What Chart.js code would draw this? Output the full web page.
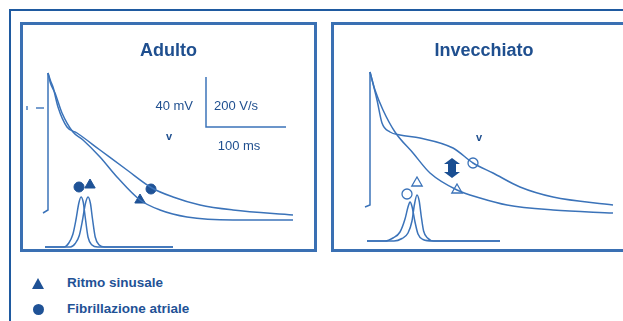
<!DOCTYPE html>
<html>
<head>
<meta charset="utf-8">
<script src="https://cdn.jsdelivr.net/npm/chart.js@4"></script>
<style>
  body { margin: 0; background: #fff; font-family: "Liberation Sans", Arial, sans-serif; }
  #page { position: relative; width: 623px; height: 321px; overflow: hidden; }
  #outer { position: absolute; left: 9px; top: 9px; width: 700px; height: 400px;
           border-top: 2px solid #1f5aa0; border-left: 2px solid #1f5aa0; }
  .panel { position: absolute; top: 22px; height: 224px; border: 3px solid #3a70b3; }
  #pAd { left: 20px; width: 291px; }
  #pInv { left: 331px; width: 300px; }
  .panel canvas { position: absolute; left: 0; top: 0; }
  .leg { position: absolute; left: 67px; font-weight: bold; font-size: 13.5px; line-height: 16px; color: #1f5296; }
  .tri { position: absolute; left: 32px; top: 278px; width: 0; height: 0;
         border-left: 6px solid transparent; border-right: 6px solid transparent; border-bottom: 11px solid #1f5296; }
  .dot { position: absolute; left: 33px; top: 304px; width: 11px; height: 11px; border-radius: 50%; background: #1f5296; }
</style>
</head>
<body>
<div id="page">
  <div id="outer"></div>
  <div class="panel" id="pAd"><canvas id="cAd" width="291" height="224"></canvas></div>
  <div class="panel" id="pInv"><canvas id="cInv" width="300" height="224"></canvas></div>
  <div class="tri"></div><div class="leg" style="top:275px">Ritmo sinusale</div>
  <div class="dot"></div><div class="leg" style="top:301px">Fibrillazione atriale</div>
</div>
<script>
// tempo in ms, potenziale in mV, derivata in V/s

// Adulto
var adUpT = [-6.25, 0, 0];
var adUpV = [-84, -81.6, 28];
var adSinT = [0, 3, 8.75, 17.5, 31.25, 43.75, 65, 86.25, 115, 140, 173.75, 231.25, 306.25];
var adSinV = [28, 20, 12, -4, -19.2, -25.6, -39.2, -55.2, -73.6, -81.6, -87.2, -89.6, -89.6];
var adFibT = [0, 3, 6.25, 12.5, 23.75, 36.25, 65, 98.75, 130, 156.25, 190, 231.25, 306.25];
var adFibV = [28, 22, 16.8, 0.8, -15.2, -20, -33.6, -49.6, -64, -71.2, -77.6, -81.6, -85.6];
var adDvSinT = [-3.75, 28, 34, 39, 43, 46.5, 50, 53, 55.5, 59, 64, 71, 156.25];
var adDvSinV = [0, 0, 14, 45, 105, 170, 200, 175, 115, 40, 8, 0, 0];
var adDvFibT = [-3.75, 20, 26, 31, 35, 38.5, 41.25, 44, 46.5, 50, 55, 62, 156.25];
var adDvFibV = [0, 0, 16, 50, 110, 175, 200, 180, 120, 40, 8, 0, 0];
var adMarkSin = [115, -73.6], adMarkFib = [128.75, -64.8];
var adDvMarkSin = [52.5, 248], adDvMarkFib = [38.75, 240];

// Invecchiato
var invUpT = [-6.25, 0, 0];
var invUpV = [-79.2, -77.6, 28.8];
var invSinT = [0, 6.25, 16.25, 31.25, 53.75, 75, 108.75, 137.5, 171.25, 228.75, 303.75];
var invSinV = [28.8, 14.4, -1.6, -19.2, -36, -52, -65.6, -72, -77.6, -81.6, -84];
var invFibT = [0, 8.75, 15, 25, 37.5, 62.5, 103.75, 128.75, 153.75, 187.5, 228.75, 303.75];
var invFibV = [28.8, 6.4, -12, -19.2, -21.6, -24, -32, -44, -52, -63.2, -71.2, -77.6];
var invDvSinT = [-3.75, 30, 40, 47.5, 52.5, 55.5, 58.75, 61.5, 64, 67, 72, 80, 162.5];
var invDvSinV = [0, 0, 10, 32, 80, 145, 184, 160, 100, 40, 12, 0, 0];
var invDvFibT = [-3.75, 18.75, 28.75, 37.5, 43.75, 47.5, 50, 52.5, 56.25, 60, 66.25, 78.75, 162.5];
var invDvFibV = [0, 0, 12, 36, 88, 136, 156, 138, 76, 28, 6, 0, 0];
var invMarkSin = [108.75, -65.6], invMarkFib = [128.75, -44];
var invDvMarkSin = [58.75, 232], invDvMarkFib = [46.25, 188];

// scala
var barT = [197.5, 197.5, 297.5];
var barV = [24.8, -15.2, -15.2];

var traceCol = '#3b73b9';
var markCol = '#1f5296';
var textCol = '#1f4f8f';

function pts(t, v) {
  return t.map(function(x, i) { return {x: x, y: v[i]}; });
}

function trace(t, v, axis, mono) {
  return {
    data: pts(t, v), yAxisID: axis || 'y', showLine: true, pointRadius: 0,
    borderColor: traceCol, borderWidth: 1.5,
    cubicInterpolationMode: mono ? 'monotone' : 'default', tension: 0
  };
}

function marker(p, axis, style, open) {
  return {
    data: [{x: p[0], y: p[1]}], yAxisID: axis, showLine: false,
    pointStyle: style, pointRadius: style == 'triangle' ? 6 : 5,
    backgroundColor: open ? '#fff' : markCol, borderColor: open ? traceCol : markCol,
    borderWidth: open ? 1.3 : 1
  };
}

var panelLabels = {
  id: 'panelLabels',
  afterDatasetsDraw: function(chart, args, opts) {
    var ctx = chart.ctx, x = chart.scales.x, y = chart.scales.y;
    ctx.save();
    ctx.fillStyle = textCol;
    ctx.textBaseline = 'middle';
    (opts.labels || []).forEach(function(l) {
      ctx.font = l.font || '13px "Liberation Sans", Arial, sans-serif';
      ctx.textAlign = l.align || 'center';
      ctx.fillText(l.text, x.getPixelForValue(l.t), y.getPixelForValue(l.v));
    });
    if (opts.ticks) {
      ctx.strokeStyle = traceCol;
      ctx.lineWidth = 1.4;
      opts.ticks.forEach(function(s) {
        ctx.beginPath();
        ctx.moveTo(x.getPixelForValue(s[0]), y.getPixelForValue(s[1]));
        ctx.lineTo(x.getPixelForValue(s[2]), y.getPixelForValue(s[3]));
        ctx.stroke();
      });
    }
    if (opts.arrow) {
      var a = opts.arrow;
      var cx = x.getPixelForValue(a.t), y1 = y.getPixelForValue(a.v1), y2 = y.getPixelForValue(a.v2);
      var hw = 8, sw = 4, hh = 6;
      ctx.fillStyle = '#1a4e92';
      ctx.beginPath();
      ctx.moveTo(cx, y1);
      ctx.lineTo(cx + hw, y1 + hh);
      ctx.lineTo(cx + sw, y1 + hh);
      ctx.lineTo(cx + sw, y2 - hh);
      ctx.lineTo(cx + hw, y2 - hh);
      ctx.lineTo(cx, y2);
      ctx.lineTo(cx - hw, y2 - hh);
      ctx.lineTo(cx - sw, y2 - hh);
      ctx.lineTo(cx - sw, y1 + hh);
      ctx.lineTo(cx - hw, y1 + hh);
      ctx.closePath();
      ctx.fill();
    }
    ctx.restore();
  }
};

function makePanel(id, title, xmin, xmax, y2min, datasets, extra) {
  return new Chart(document.getElementById(id), {
    type: 'scatter',
    data: { datasets: datasets },
    options: {
      responsive: false,
      animation: false,
      devicePixelRatio: 1,
      layout: { padding: 0, autoPadding: false },
      scales: {
        x: { type: 'linear', display: false, min: xmin, max: xmax },
        y: { type: 'linear', display: false, min: -112.8, max: 33.92 },
        y2: { type: 'linear', display: false, min: y2min, max: y2min + 733.6 }
      },
      plugins: {
        legend: { display: false },
        tooltip: { enabled: false },
        title: {
          display: true, text: title, color: textCol,
          font: { family: '"Liberation Sans", Arial, sans-serif', size: 18, weight: 'bold' },
          padding: { top: 15, bottom: 4 }
        },
        panelLabels: extra
      }
    },
    plugins: [panelLabels]
  });
}

makePanel('cAd', 'Adulto', -31.25, 332.5, -8, [
  trace(adUpT, adUpV),
  trace(adSinT, adSinV, 'y', true),
  trace(adFibT, adFibV, 'y', true),
  trace(adDvSinT, adDvSinV, 'y2', true),
  trace(adDvFibT, adDvFibV, 'y2', true),
  trace(barT, barV),
  marker(adMarkSin, 'y', 'triangle'),
  marker(adMarkFib, 'y', 'circle'),
  marker(adDvMarkSin, 'y2', 'triangle'),
  marker(adDvMarkFib, 'y2', 'circle')
], {
  labels: [
    {text: '40 mV', t: 181.25, v: 1.6, align: 'right'},
    {text: '200 V/s', t: 207.5, v: 1.6, align: 'left'},
    {text: '100 ms', t: 238.75, v: -30.4},
    {text: 'v', t: 151.25, v: -23.2, font: 'bold 11px "Liberation Sans", Arial, sans-serif'}
  ],
  ticks: [[-15, 0, -5, 0], [-26.25, -1.6, -26.25, 1.6]]
});

makePanel('cInv', 'Invecchiato', -45, 330, -32, [
  trace(invUpT, invUpV),
  trace(invSinT, invSinV, 'y', true),
  trace(invFibT, invFibV, 'y', true),
  trace(invDvSinT, invDvSinV, 'y2', true),
  trace(invDvFibT, invDvFibV, 'y2', true),
  marker(invMarkSin, 'y', 'triangle', true),
  marker(invMarkFib, 'y', 'circle', true),
  marker(invDvMarkSin, 'y2', 'triangle', true),
  marker(invDvMarkFib, 'y2', 'circle', true)
], {
  labels: [
    {text: 'v', t: 136.25, v: -24, font: 'bold 11px "Liberation Sans", Arial, sans-serif'}
  ],
  arrow: {t: 102.5, v1: -40, v2: -56}
});
</script>
</body>
</html>
